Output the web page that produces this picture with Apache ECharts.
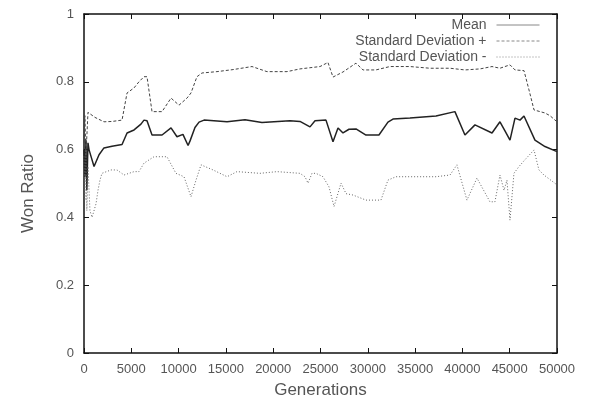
<!DOCTYPE html>
<html>
<head>
<meta charset="utf-8">
<script src="https://cdn.jsdelivr.net/npm/echarts@6/dist/echarts.min.js"></script>
<style>html,body{margin:0;padding:0;background:#fff}#c{width:595px;height:406px}</style>
</head>
<body>
<div id="c"></div>
<script>
var xTicks = [0,5000,10000,15000,20000,25000,30000,35000,40000,45000,50000];
var yTicks = [0,0.2,0.4,0.6,0.8,1];

var meanGen = [0,100,200,300,420,530,740,1060,1590,2110,2960,4020,4550,5290,6020,6340,6660,7190,8250,9200,9830,10460,11000,11200,11730,12160,12690,15120,17020,18810,21770,22830,23890,24420,25580,25790,26320,26850,27380,28010,28750,29810,31180,32130,32660,34460,37210,39210,40270,41330,43130,43970,44500,45030,45560,46090,46510,47670,48730,50000];
var meanVal = [0.60,0.52,0.63,0.48,0.62,0.60,0.58,0.55,0.585,0.605,0.61,0.615,0.649,0.658,0.675,0.687,0.685,0.643,0.643,0.664,0.638,0.645,0.612,0.625,0.665,0.681,0.687,0.682,0.688,0.68,0.685,0.683,0.667,0.685,0.687,0.682,0.623,0.664,0.649,0.66,0.661,0.643,0.643,0.681,0.69,0.693,0.699,0.712,0.643,0.673,0.649,0.682,0.655,0.628,0.693,0.687,0.699,0.628,0.609,0.594];

var sdPlusGen = [0,100,200,420,630,1160,2110,2960,4020,4550,5290,5810,6340,6660,7190,8250,9200,10040,10890,11310,11940,12470,14060,15750,17760,19340,21460,22830,24950,25790,26320,27380,28750,29490,30860,32340,34460,36570,38690,40270,41860,43130,43970,45030,45560,46510,47040,47570,48730,49260,50000];
var sdPlusVal = [0.62,0.70,0.58,0.71,0.712,0.695,0.682,0.683,0.687,0.767,0.782,0.80,0.815,0.815,0.712,0.712,0.752,0.731,0.752,0.767,0.815,0.826,0.83,0.836,0.845,0.83,0.83,0.838,0.845,0.857,0.814,0.829,0.855,0.835,0.835,0.845,0.845,0.84,0.84,0.835,0.838,0.845,0.84,0.85,0.835,0.833,0.776,0.717,0.708,0.70,0.682];

var sdMinusGen = [0,100,200,300,420,630,850,1060,1270,1480,1690,1900,2850,3490,4230,5290,5810,6340,7400,8770,9720,10570,11310,11840,12370,13640,15120,16170,18600,20400,22830,23360,23680,24100,24520,25260,25900,26430,27170,27700,28430,29810,31390,32130,32980,37210,38690,39420,40480,41540,42910,43440,43970,44400,44710,45030,45450,45980,46610,47570,48090,48620,50000];
var sdMinusVal = [0.58,0.45,0.60,0.42,0.55,0.42,0.40,0.402,0.44,0.48,0.51,0.53,0.54,0.54,0.525,0.535,0.535,0.56,0.579,0.579,0.53,0.52,0.461,0.51,0.555,0.54,0.52,0.535,0.53,0.535,0.53,0.52,0.501,0.53,0.53,0.52,0.49,0.432,0.501,0.47,0.466,0.451,0.451,0.51,0.52,0.52,0.525,0.555,0.451,0.516,0.446,0.446,0.525,0.48,0.51,0.392,0.53,0.55,0.57,0.599,0.54,0.525,0.496];

var seriesNames = ['Mean','Standard Deviation +','Standard Deviation -'];

function pairs(g, v){ return g.map(function(x,i){ return [x, v[i]]; }); }

var FONT = 'Liberation Sans, Arial, Helvetica, sans-serif';
var chart = echarts.init(document.getElementById('c'), null, {renderer:'canvas'});

function legendFor(name, top){
  return {
    data:[name], right: 55, top: top, align:'right', orient:'vertical',
    itemWidth: 43, itemHeight: 10, itemGap: 0, padding: 0,
    itemStyle:{opacity:0, borderWidth:0},
    lineStyle:{width:1, color:'#888'},
    textStyle:{fontFamily:FONT, fontSize:14, color:'#555', padding:[0,5,0,0]},
    selectedMode:false
  };
}

var axisLine = {show:true, onZero:false, lineStyle:{color:'#111', width:1.5}};
var tick = {show:true, inside:true, length:5, lineStyle:{color:'#111', width:1}};
function plain(v){ return String(v); }

chart.setOption({
  animation:false,
  backgroundColor:'#fff',
  grid:{left:84, right:38, top:14, bottom:53, containLabel:false},
  legend:[legendFor(seriesNames[0], 18), legendFor(seriesNames[1], 34), legendFor(seriesNames[2], 50)],
  xAxis:[{
    type:'value', min:0, max:50000, interval:5000, position:'bottom',
    axisLine:axisLine, axisTick:tick, splitLine:{show:false},
    axisLabel:{fontFamily:FONT, fontSize:13, color:'#555', margin:10, formatter:plain},
    name:'Generations', nameLocation:'middle', nameGap:29,
    nameTextStyle:{fontFamily:FONT, fontSize:17, color:'#555'}
  },{
    type:'value', min:0, max:50000, interval:5000, position:'top',
    axisLine:axisLine, axisTick:tick, axisLabel:{show:false}, splitLine:{show:false}
  }],
  yAxis:[{
    type:'value', min:0, max:1, interval:0.2, position:'left',
    axisLine:axisLine, axisTick:tick, splitLine:{show:false},
    axisLabel:{fontFamily:FONT, fontSize:13, color:'#555', margin:10, formatter:plain},
    name:'Won Ratio', nameLocation:'middle', nameGap:47,
    nameTextStyle:{fontFamily:FONT, fontSize:17, color:'#555', padding:[0,20,0,0]}
  },{
    type:'value', min:0, max:1, interval:0.2, position:'right',
    axisLine:axisLine, axisTick:tick, axisLabel:{show:false}, splitLine:{show:false}
  }],
  series:[
    {name:seriesNames[0], type:'line', data:pairs(meanGen, meanVal), symbol:'none',
     lineStyle:{color:'#222', width:1.5, type:'solid'}, itemStyle:{color:'#222'}},
    {name:seriesNames[1], type:'line', data:pairs(sdPlusGen, sdPlusVal), symbol:'none',
     lineStyle:{color:'#444', width:1, type:[3,2]}, itemStyle:{color:'#444'}},
    {name:seriesNames[2], type:'line', data:pairs(sdMinusGen, sdMinusVal), symbol:'none',
     lineStyle:{color:'#666', width:1, type:[1,2]}, itemStyle:{color:'#666'}}
  ]
});
</script>
</body>
</html>
